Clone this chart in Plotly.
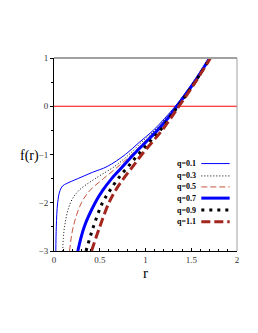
import plotly.graph_objects as go

# f levels at which r was read for each curve
labels = ["q=0.1", "q=0.3", "q=0.5", "q=0.7", "q=0.9", "q=1.1"]

r_q01 = [0.02, 0.025, 0.04, 0.065, 0.095, 0.14, 0.26, 0.42, 0.58, 0.78, 0.93, 1.085, 1.21, 1.325, 1.52, 1.695]
f_q01 = [-3.0, -2.5, -2.0, -1.75, -1.65, -1.6, -1.5, -1.37, -1.25, -1.0, -0.75, -0.5, -0.25, 0.0, 0.5, 1.0]

r_q03 = [0.095, 0.115, 0.18, 0.27, 0.45, 0.66, 0.82, 0.955, 1.1, 1.22, 1.33, 1.525, 1.697]
f_q03 = [-3.0, -2.5, -2.0, -1.75, -1.5, -1.25, -1.0, -0.75, -0.5, -0.25, 0.0, 0.5, 1.0]

r_q05 = [0.17, 0.21, 0.30, 0.39, 0.54, 0.70, 0.85, 0.98, 1.115, 1.23, 1.338, 1.53, 1.70]
f_q05 = [-3.0, -2.5, -2.0, -1.75, -1.5, -1.25, -1.0, -0.75, -0.5, -0.25, 0.0, 0.5, 1.0]

r_q07 = [0.26, 0.33, 0.45, 0.53, 0.63, 0.75, 0.87, 1.0, 1.13, 1.245, 1.345, 1.535, 1.702]
f_q07 = [-3.0, -2.5, -2.0, -1.75, -1.5, -1.25, -1.0, -0.75, -0.5, -0.25, 0.0, 0.5, 1.0]

r_q09 = [0.35, 0.43, 0.53, 0.61, 0.70, 0.81, 0.92, 1.04, 1.16, 1.26, 1.355, 1.54, 1.705]
f_q09 = [-3.0, -2.5, -2.0, -1.75, -1.5, -1.25, -1.0, -0.75, -0.5, -0.25, 0.0, 0.5, 1.0]

r_q11 = [0.41, 0.50, 0.60, 0.67, 0.76, 0.86, 0.96, 1.07, 1.18, 1.275, 1.365, 1.545, 1.71]
f_q11 = [-3.0, -2.5, -2.0, -1.75, -1.5, -1.25, -1.0, -0.75, -0.5, -0.25, 0.0, 0.5, 1.0]

zero_x = [0, 2]
zero_y = [0, 0]

x_ticks = [0, 0.5, 1, 1.5, 2]
x_ticktext = ["0", "0.5", "1", "1.5", "2"]
y_ticks = [1, 0, -1, -2, -3]
y_ticktext = ["1", "0", "\u22121", "\u22122", "\u22123"]

series = [
    (r_q01, f_q01, "#0000ff", 1, "solid"),
    (r_q03, f_q03, "#000000", 1, "1px,2px"),
    (r_q05, f_q05, "#c4553c", 1, "6px,3px"),
    (r_q07, f_q07, "#0000ff", 3, "solid"),
    (r_q09, f_q09, "#000000", 3, "3px,5px"),
    (r_q11, f_q11, "#a3261e", 3, "9px,4px"),
]

fig = go.Figure()
fig.add_trace(go.Scatter(x=zero_x, y=zero_y, mode="lines",
                         line=dict(color="#ff0000", width=1.2), showlegend=False))
for (xs, ys, col, w, dash), lab in zip(series, labels):
    fig.add_trace(go.Scatter(x=xs, y=ys, mode="lines", name=lab,
                             line=dict(color=col, width=w, dash=dash,
                                       shape="spline", smoothing=1.0),
                             showlegend=False))

# custom legend: text then line sample
leg_y = [0.453, 0.389, 0.332, 0.274, 0.212, 0.151]
for (xs, ys, col, w, dash), lab, yy in zip(series, labels, leg_y):
    fig.add_annotation(x=0.785, y=yy, xref="paper", yref="paper", text="<b>%s</b>" % lab,
                       showarrow=False, xanchor="right", yanchor="middle",
                       font=dict(family="Liberation Serif", size=8, color="#000"))
    fig.add_shape(type="line", xref="paper", yref="paper", x0=0.805, x1=0.96, y0=yy, y1=yy,
                  line=dict(color=col, width=w, dash=dash))

# gray top/right frame
fig.add_shape(type="line", xref="paper", yref="paper", x0=0, x1=1, y0=1, y1=1,
              line=dict(color="#a0a0a0", width=2))
fig.add_shape(type="line", xref="paper", yref="paper", x0=1, x1=1, y0=0, y1=1,
              line=dict(color="#a0a0a0", width=1))

fig.add_annotation(x=-0.135, y=0.49, xref="paper", yref="paper", text="f(r)",
                   showarrow=False, xanchor="center", yanchor="middle",
                   font=dict(family="Liberation Serif", size=14, color="#000"))
fig.add_annotation(x=0.5, y=-0.115, xref="paper", yref="paper", text="r",
                   showarrow=False, xanchor="center", yanchor="middle",
                   font=dict(family="Liberation Serif", size=15, color="#000"))

fig.update_layout(
    width=250, height=317,
    margin=dict(l=46, r=21, t=50, b=74),
    paper_bgcolor="white", plot_bgcolor="white",
    font=dict(family="Liberation Serif", size=9, color="#333"),
    xaxis=dict(range=[0, 2], tickvals=x_ticks, ticktext=x_ticktext,
               showgrid=False, zeroline=False, showline=True, linecolor="#000", linewidth=1,
               ticks="inside", ticklen=3, tickcolor="#000",
               minor=dict(dtick=0.1, ticks="inside", ticklen=2, tickcolor="#000")),
    yaxis=dict(range=[-3, 1], tickvals=y_ticks, ticktext=y_ticktext,
               showgrid=False, zeroline=False, showline=True, linecolor="#000", linewidth=1,
               ticks="outside", ticklen=3, tickcolor="#000",
               minor=dict(dtick=0.5, ticks="outside", ticklen=2, tickcolor="#000")),
)

fig.write_html("out.html")
